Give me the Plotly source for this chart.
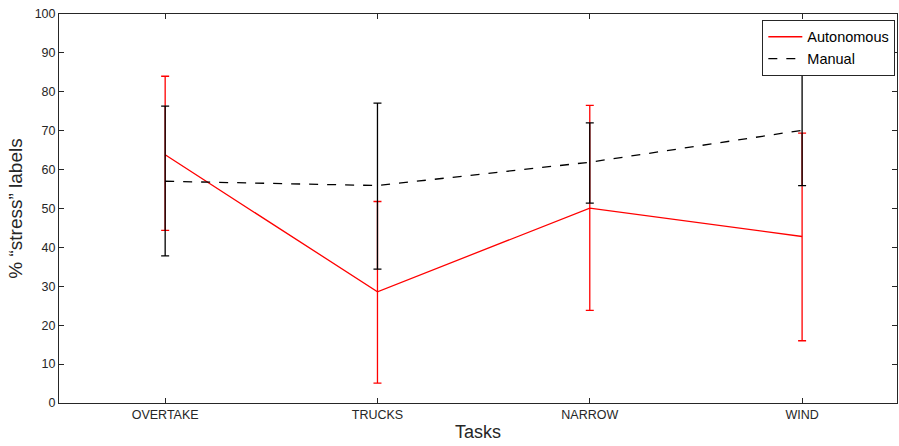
import plotly.graph_objects as go

tasks = ["OVERTAKE", "TRUCKS", "NARROW", "WIND"]
x_pos = [1, 2, 3, 4]

auto_mean = [63.8, 28.6, 50.1, 42.8]
auto_upper = [84.0, 51.8, 76.5, 69.4]
auto_lower = [44.4, 5.1, 23.8, 16.0]

man_mean = [57.0, 55.9, 61.9, 70.1]
man_upper = [76.3, 77.1, 72.0, 84.4]
man_lower = [37.8, 34.4, 51.4, 55.9]

y_ticks = [0, 10, 20, 30, 40, 50, 60, 70, 80, 90, 100]

fig = go.Figure()
fig.add_trace(go.Scatter(
    x=x_pos, y=auto_mean, mode="lines", name="Autonomous",
    line=dict(color="#ff0000", width=1.3),
    error_y=dict(type="data", symmetric=False,
                 array=[u - m for u, m in zip(auto_upper, auto_mean)],
                 arrayminus=[m - l for m, l in zip(auto_mean, auto_lower)],
                 color="#ff0000", thickness=1.3, width=4),
))
fig.add_trace(go.Scatter(
    x=x_pos, y=man_mean, mode="lines", name="Manual",
    line=dict(color="#000000", width=1.3, dash="dash"),
    error_y=dict(type="data", symmetric=False,
                 array=[u - m for u, m in zip(man_upper, man_mean)],
                 arrayminus=[m - l for m, l in zip(man_mean, man_lower)],
                 color="#000000", thickness=1.3, width=4),
))

axis_color = "#262626"
fig.update_layout(
    width=899, height=446,
    margin=dict(l=59, r=2, t=14, b=43),
    paper_bgcolor="white", plot_bgcolor="white",
    font=dict(family="Liberation Sans, Arial, sans-serif", color=axis_color),
    showlegend=True,
    legend=dict(x=0.998, y=0.985, xanchor="right", yanchor="top",
                bordercolor=axis_color, borderwidth=1, bgcolor="white",
                font=dict(size=14.5, color="#000000"),
                tracegroupgap=0, itemwidth=34),
    xaxis=dict(
        range=[0.5, 4.447], tickmode="array", tickvals=x_pos, ticktext=tasks,
        showgrid=False, zeroline=False, showline=True, linecolor=axis_color,
        linewidth=1, mirror="ticks", ticks="inside", ticklen=5,
        tickcolor=axis_color, tickfont=dict(size=12.5, color=axis_color),
        title=dict(text="Tasks", font=dict(size=18, color=axis_color), standoff=4),
    ),
    yaxis=dict(
        range=[0, 100], tickmode="array", tickvals=y_ticks,
        showgrid=False, zeroline=False, showline=True, linecolor=axis_color,
        linewidth=1, mirror="ticks", ticks="inside", ticklen=5,
        tickcolor=axis_color, tickfont=dict(size=12.5, color=axis_color),
        title=dict(text="% \u201cstress\u201d labels", font=dict(size=19, color=axis_color), standoff=6),
    ),
)

fig.write_html("out.html")
